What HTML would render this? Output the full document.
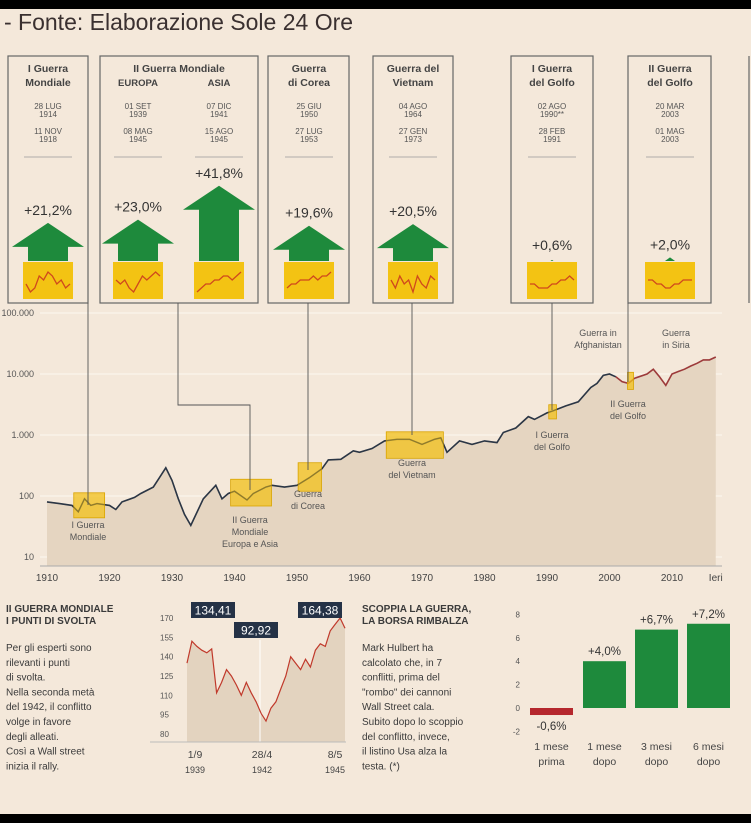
<!DOCTYPE html>
<html><head><meta charset="utf-8">
<style>
html,body{margin:0;padding:0;background:#000;}
svg{display:block;font-family:"Liberation Sans",sans-serif;}
</style></head>
<body>
<svg id="root" width="751" height="823" viewBox="0 0 751 823" xmlns="http://www.w3.org/2000/svg">
<rect x="0" y="0" width="751" height="823" fill="#000"/>
<rect x="0" y="9" width="751" height="805" fill="#f4e8da"/>
<text x="4" y="30" font-size="23" fill="#3a3030">- Fonte: Elaborazione Sole 24 Ore</text>
<g id="panels"></g>
<g id="main"></g>
<g id="mini"></g>
<g id="bars"></g>
<g id="texts"></g>
</svg>
<script>
// ===== Main chart data =====
const years = [1910,1912,1914,1915,1916,1917,1918,1920,1921,1922,1924,1925,1927,1928,1929,1930,1931,1932,1933,1935,1937,1938,1939,1940,1942,1943,1945,1946,1948,1950,1952,1954,1955,1957,1959,1960,1962,1964,1966,1968,1970,1972,1973,1974,1976,1978,1980,1982,1983,1985,1987,1988,1990,1991,1993,1995,1997,1998,1999,2000,2001,2002,2003,2004,2006,2007,2008,2009,2010,2011,2012,2013,2014,2015,2016,2017];
const values = [80,75,70,55,90,70,75,70,60,80,95,110,140,200,290,180,90,50,33,90,150,90,110,120,86,110,140,150,140,150,200,280,390,400,550,520,600,800,850,850,700,850,900,520,800,700,800,750,1100,1300,2000,1800,2300,2500,3000,3500,6000,7000,9500,10000,9000,7500,7000,8500,10000,12000,9000,6500,10000,11000,12000,13500,15000,17000,17000,19000];
const yTicks = [10,100,1000,10000,100000];
const yTickLabels = ["10","100","1.000","10.000","100.000"];
const xTicks = [1910,1920,1930,1940,1950,1960,1970,1980,1990,2000,2010,2017];
const xTickLabels = ["1910","1920","1930","1940","1950","1960","1970","1980","1990","2000","2010","Ieri"];

// ===== Panels data =====
const panelTitles = [["I Guerra","Mondiale"],["Guerra","di Corea"],["Guerra del","Vietnam"],["I Guerra","del Golfo"],["II Guerra","del Golfo"]];
const panelGains = [21.2,23.0,41.8,19.6,20.5,0.6,2.0];
const panelGainLabels = ["+21,2%","+23,0%","+41,8%","+19,6%","+20,5%","+0,6%","+2,0%"];

// ===== Mini WWII chart data =====
const miniValues = [135,152,148,145,143,146,112,120,130,125,118,110,120,112,105,96,90,100,105,115,125,140,135,130,138,132,145,150,148,160,165,170,162];
const miniTicks = [80,95,110,125,140,155,170];
const miniCallouts = ["134,41","92,92","164,38"];

// ===== Bar chart data =====
const barCats = [["1 mese","prima"],["1 mese","dopo"],["3 mesi","dopo"],["6 mesi","dopo"]];
const barValues = [-0.6,4.0,6.7,7.2];
const barLabels = ["-0,6%","+4,0%","+6,7%","+7,2%"];
const barTicks = [-2,0,2,4,6,8];

const NS="http://www.w3.org/2000/svg";
function mk(parent,tag,attrs,text){const e=document.createElementNS(NS,tag);for(const k in attrs)e.setAttribute(k,attrs[k]);if(text!==undefined)e.textContent=text;parent.appendChild(e);return e;}

// ---- main chart scales
const xMain = y => 47 + (y-1910)*6.25;
const yMain = v => 557 - (Math.log10(v)-1)*61;
const main=document.getElementById('main');
yTicks.forEach((t,i)=>{
  const l=mk(main,'line',{x1:40,x2:722,y1:yMain(t),y2:yMain(t),stroke:'#fbf4ec','stroke-width':1.2});
  
  
  const tx=mk(main,'text',{x:34,y:yMain(t)+3,'font-size':9,fill:'#555','text-anchor':'end'},yTickLabels[i]);
  
  
});
let area='M'+xMain(years[0])+',566';
years.forEach((y,i)=>{area+=' L'+xMain(y).toFixed(1)+','+yMain(values[i]).toFixed(1);});
area+=' L'+xMain(years[years.length-1])+',566 Z';
const ar=mk(main,'path',{d:area,fill:'#e5d5c1'});


let d1='',d2='';
years.forEach((y,i)=>{const p=xMain(y).toFixed(1)+','+yMain(values[i]).toFixed(1);
  if(y<=2001) d1+=(d1?' L':'M')+p; if(y>=2001) d2+=(d2?' L':'M')+p;});
const ln1=mk(main,'path',{d:d1,fill:'none',stroke:'#2c3645','stroke-width':1.6});


const ln2=mk(main,'path',{d:d2,fill:'none',stroke:'#9c3a3a','stroke-width':1.6});


const ax=mk(main,'line',{x1:40,x2:722,y1:566,y2:566,stroke:'#aaa','stroke-width':1});


xTicks.forEach((t,i)=>{
  const tx=mk(main,'text',{x:xMain(t),y:581,'font-size':10,fill:'#444','text-anchor':'middle'},xTickLabels[i]);
  
  
});
const warStart=[1914.6,1939.7,1950.5,1964.6,1990.6,2003.2];
const warEnd=[1918.9,1945.6,1953.6,1973.1,1991.2,2003.4];
warStart.forEach((s,i)=>{
  let vs=[];years.forEach((y,j)=>{if(y>=s-1&&y<=warEnd[i]+1)vs.push(values[j]);});
  const mx=Math.max(...vs),mn=Math.min(...vs);
  const x1=xMain(s)-2,x2=xMain(warEnd[i])+2;
  const r=mk(main,'rect',{x:x1,y:yMain(mx)-6,width:Math.max(6,x2-x1),height:yMain(mn)-yMain(mx)+12,fill:'#f2c01a','fill-opacity':0.75,stroke:'#d9a400','stroke-width':0.8});
  
  
});
const ln3=mk(main,'path',{d:d1,fill:'none',stroke:'#2c3645','stroke-width':1.2,'stroke-opacity':0.35});



const conns=[[[88,303],[88,505]],[[178,303],[178,405],[250,405],[250,490]],[[308,303],[308,470]],[[412,303],[412,435]],[[552,303],[552,410]],[[628,303],[628,382]]];
conns.forEach(c=>{
  const p=mk(main,'polyline',{points:c.map(q=>q.join(',')).join(' '),fill:'none',stroke:'#555','stroke-width':0.9});
  
  
});
const chartLabels=[[88,528,["I Guerra","Mondiale"]],[250,523,["II Guerra","Mondiale","Europa e Asia"]],[308,497,["Guerra","di Corea"]],[412,466,["Guerra","del Vietnam"]],[552,438,["I Guerra","del Golfo"]],[628,407,["II Guerra","del Golfo"]],[598,336,["Guerra in","Afghanistan"]],[676,336,["Guerra","in Siria"]]];
chartLabels.forEach(l=>{l[2].forEach((s,k)=>{
  const t=mk(main,'text',{x:l[0],y:l[1]+k*12,'font-size':9,fill:'#555','text-anchor':'middle'},s);
  
  
});});

// ---- panels
const panels=document.getElementById('panels');
const boxes=[[8,80],[100,158],[268,81],[373,80],[511,82],[628,83]];
boxes.forEach(b=>{
  const r=mk(panels,'rect',{x:b[0],y:56,width:b[1],height:247,fill:'none',stroke:'#666','stroke-width':1.2});
  
  
});
const edge=mk(panels,'line',{x1:749,x2:749,y1:56,y2:303,stroke:'#666','stroke-width':1.2});


function ptxt(x,y,s,size,w,fill){const t=mk(panels,'text',{x:x,y:y,'font-size':size,'font-weight':w,fill:fill,'text-anchor':'middle'},s);
  
  return t;}
const titleCx=[48,309,413,552,670];
panelTitles.forEach((tt,i)=>{ptxt(titleCx[i],72,tt[0],10.5,'bold','#444');ptxt(titleCx[i],86,tt[1],10.5,'bold','#444');});
ptxt(179,72,'II Guerra Mondiale',10.5,'bold','#444');
ptxt(138,86,'EUROPA',9.5,'bold','#444');ptxt(219,86,'ASIA',9.5,'bold','#444');
const colCx=[48,138,219,309,413,552,670];
const dates=[["28 LUG","1914","11 NOV","1918"],["01 SET","1939","08 MAG","1945"],["07 DIC","1941","15 AGO","1945"],["25 GIU","1950","27 LUG","1953"],["04 AGO","1964","27 GEN","1973"],["02 AGO","1990**","28 FEB","1991"],["20 MAR","2003","01 MAG","2003"]];
dates.forEach((dd,i)=>{const x=colCx[i];
  ptxt(x,109,dd[0],8,'normal','#555');ptxt(x,117,dd[1],8,'normal','#555');
  ptxt(x,134,dd[2],8,'normal','#555');ptxt(x,142,dd[3],8,'normal','#555');
  const l=mk(panels,'line',{x1:x-24,x2:x+24,y1:157,y2:157,stroke:'#999','stroke-width':0.8});
  
  
});
const sparks=[[4,6,5,2,3,1,2,4,3,5,4],[3,4,3,5,6,4,2,3,2,1,2],[6,5,4,4,3,3,2,2,3,2,1],[5,4,4,3,3,3,2,3,2,2,1],[3,5,2,4,3,6,2,4,5,2,3],[4,4,5,5,5,4,4,3,3,2,3],[3,3,4,4,5,5,4,4,3,3,3]];
panelGains.forEach((g,i)=>{const x=colCx[i];const base=261;const h=g*1.8;
  if(h>0){const top=base-h;const hh=Math.min(24,h);
    let pts;
    if(h>hh+1) pts=[[x-20,base],[x-20,top+hh],[x-36,top+hh],[x,top],[x+36,top+hh],[x+20,top+hh],[x+20,base]];
    else pts=[[x-hh*1.4,base],[x,top],[x+hh*1.4,base]];
    const a=mk(panels,'polygon',{points:pts.map(p=>p.join(',')).join(' '),fill:'#1e8a3c'});
    
    
  }
  const labY=(h>30?base-h-8:Math.min(base-h-8,250));
  ptxt(x,labY,panelGainLabels[i],14,'normal','#333');
  const yb=mk(panels,'rect',{x:x-25,y:262,width:50,height:37,fill:'#f3c313'});
  
  
  const s=sparks[i];const pts=s.map((v,k)=>(x-22+k*4.4).toFixed(1)+','+(268+v*4)).join(' ');
  const pl=mk(panels,'polyline',{points:pts,fill:'none',stroke:'#d0491c','stroke-width':1.3});
  
  
});

// ---- mini chart
const mini=document.getElementById('mini');
const mx0=187,mx1=345;
const xMini=i=>mx0+i*(mx1-mx0)/(miniValues.length-1);
const yMini=v=>734-(v-80)*(116/90);
miniTicks.forEach(t=>{const tx=mk(mini,'text',{x:160,y:yMini(t)+3,'font-size':8,fill:'#555'},String(t));
  
  });
let ma='M'+mx0+',742';miniValues.forEach((v,i)=>ma+=' L'+xMini(i).toFixed(1)+','+yMini(v).toFixed(1));ma+=' L'+mx1+',742 Z';
const mar=mk(mini,'path',{d:ma,fill:'#e3d3bf'});


const mvl=mk(mini,'line',{x1:260,x2:260,y1:640,y2:742,stroke:'#fff','stroke-width':1});


let ml='';miniValues.forEach((v,i)=>ml+=(i?' L':'M')+xMini(i).toFixed(1)+','+yMini(v).toFixed(1));
const mln=mk(mini,'path',{d:ml,fill:'none',stroke:'#c0392b','stroke-width':1.2});


const mbase=mk(mini,'line',{x1:150,x2:346,y1:742,y2:742,stroke:'#bbb','stroke-width':1});


const callX=[213,256,320],callY=[602,622,602];
miniCallouts.forEach((c,i)=>{const r=mk(mini,'rect',{x:callX[i]-22,y:callY[i],width:44,height:16,fill:'#253246'});
  
  
  const t=mk(mini,'text',{x:callX[i],y:callY[i]+12.5,'font-size':12,fill:'#fff','text-anchor':'middle'},c);
  
  });
[[195,"1/9","1939"],[262,"28/4","1942"],[335,"8/5","1945"]].forEach(a=>{
  const t1=mk(mini,'text',{x:a[0],y:758,'font-size':10.5,fill:'#444','text-anchor':'middle'},a[1]);
  
  
  const t2=mk(mini,'text',{x:a[0],y:773,'font-size':9,fill:'#444','text-anchor':'middle'},a[2]);
  
  });

// ---- bar chart
const bars=document.getElementById('bars');
const yBar=v=>708-v*11.7;
const barX=[530,583,635,687],bw=43;
barTicks.forEach(t=>{const tx=mk(bars,'text',{x:520,y:yBar(t)+3,'font-size':8,fill:'#555','text-anchor':'end'},String(t));
  
  });
barValues.forEach((v,i)=>{
  const y0=yBar(Math.max(v,0)),h=Math.abs(yBar(v)-yBar(0));
  const r=mk(bars,'rect',{x:barX[i],y:y0,width:bw,height:Math.max(h,1),fill:v<0?'#b5272d':'#1e8a3c'});
  
  
  const ly=v<0?yBar(v)+15:yBar(v)-6;
  const t=mk(bars,'text',{x:barX[i]+bw/2,y:ly,'font-size':11.5,fill:'#333','text-anchor':'middle'},barLabels[i]);
  
  
  barCats[i].forEach((s,k)=>{const c=mk(bars,'text',{x:barX[i]+bw/2,y:750+k*15,'font-size':10.5,fill:'#444','text-anchor':'middle'},s);
    
    });
});

// ---- text blocks
const texts=document.getElementById('texts');
function tb(x,y,lines,size,w,lh){lines.forEach((s,k)=>{const t=mk(texts,'text',{x:x,y:y+k*lh,'font-size':size,'font-weight':w,fill:'#3a3a3a'},s);
  
  });}
tb(6,612,["II GUERRA MONDIALE","I PUNTI DI SVOLTA"],10,'bold',12);
tb(6,651,["Per gli esperti sono","rilevanti i punti","di svolta.","Nella seconda metà","del 1942, il conflitto","volge in favore","degli alleati.","Così a Wall street","inizia il rally."],10,'normal',14.8);
tb(362,612,["SCOPPIA LA GUERRA,","LA BORSA RIMBALZA"],10,'bold',12);
tb(362,651,["Mark Hulbert ha","calcolato che, in 7","conflitti, prima del","\"rombo\" dei cannoni","Wall Street cala.","Subito dopo lo scoppio","del conflitto, invece,","il listino Usa alza la","testa. (*)"],10,'normal',14.8);
</script>
</body></html>
